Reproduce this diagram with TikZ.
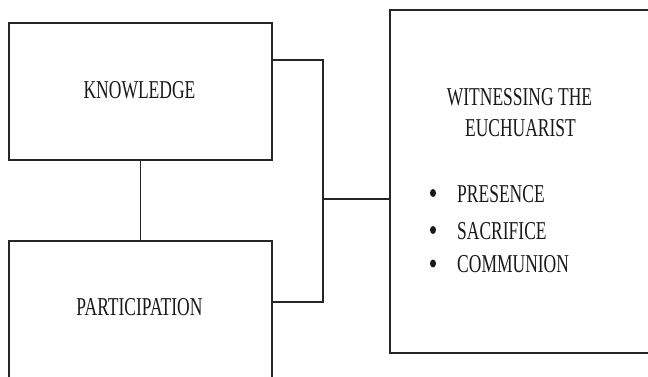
\documentclass[tikz,border=0pt]{standalone}
\usepackage{fontspec}
\setmainfont{Liberation Serif}
\usepackage{graphicx}
\usetikzlibrary{shapes.geometric}
\newcommand{\tall}[1]{\scalebox{1}[1.47]{#1}}
\begin{document}
\begin{tikzpicture}[x=1pt,y=-1pt,
  box/.style={draw=black!85, line width=1.6pt, inner sep=0pt, fill=none},
  conn/.style={draw=black!85, line width=1.6pt},
  lbl/.style={inner sep=0pt, font=\fontsize{17.5}{20}\selectfont, text=black!90},
  bul/.style={ellipse, fill=black!90, draw=none, inner sep=0pt, minimum width=6pt, minimum height=8pt},
]
\useasboundingbox (0,0) rectangle (648,377);
\fill[white] (0,0) rectangle (648,377);
\clip (0,0) rectangle (648,377);

% boxes
\node[box, minimum width=263pt, minimum height=137pt] (know) at (140.5,91.5) {};
\node[box, minimum width=263pt, minimum height=150pt] (part) at (140.5,316) {};
\node[box, minimum width=280pt, minimum height=343pt] (wit) at (530,181.5) {};

% texts
\node[lbl, anchor=base] (tk) at (139.5,99) {\tall{KNOWLEDGE}};
\node[lbl, anchor=base] (tp) at (139.5,315) {\tall{PARTICIPATION}};
\node[lbl, anchor=base] (tw1) at (519.5,106) {\tall{WITNESSING THE}};
\node[lbl, anchor=base] (tw2) at (520.5,137) {\tall{EUCHUARIST}};

\node[lbl, anchor=base west] (l1) at (457,202) {\tall{PRESENCE}};
\node[lbl, anchor=base west] (l2) at (457,239) {\tall{SACRIFICE}};
\node[lbl, anchor=base west] (l3) at (457,272) {\tall{COMMUNION}};
\node[bul] (b1) at (433,193) {};
\node[bul] (b2) at (433,230) {};
\node[bul] (b3) at (433,263.5) {};

% connectors
\coordinate (j1) at (323,60);
\coordinate (j2) at (323,302);
\coordinate (jm) at (323,199);
\draw[conn] (know.south) -- (part.north);
\draw[conn] (know.east |- j1) -- (j1) -- (j2) -- (part.east |- j2);
\draw[conn] (jm) -- (wit.west |- jm);
\end{tikzpicture}
\end{document}
